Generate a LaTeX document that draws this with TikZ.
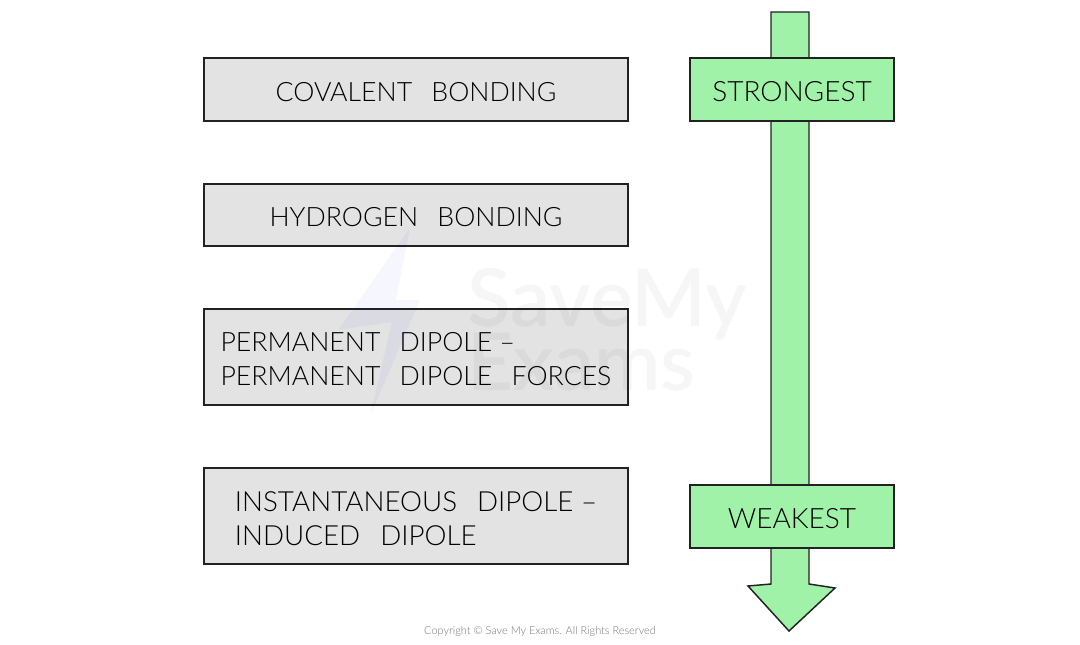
\documentclass[tikz,border=0pt]{standalone}
\usepackage{fontspec}
\setmainfont{Lato Light}
\usetikzlibrary{calc}
\definecolor{boxgrey}{HTML}{E3E3E3}
\definecolor{arrowgreen}{HTML}{A0F2A8}
\definecolor{lineblack}{HTML}{222222}
\newcommand{\gap}{\hspace{0.72em}}
\newcommand{\lowered}[1]{\raisebox{-1.8pt}[\height][\depth]{#1}}
\tikzset{
    bondbox/.style={draw=lineblack,line width=1.1pt,fill=boxgrey,minimum width=318pt,align=left,
        font=\fontsize{20}{25.5}\selectfont,inner sep=0pt},
    rankbox/.style={draw=lineblack,line width=1.1pt,fill=arrowgreen,minimum width=153pt,minimum height=47pt,
        font=\fontsize{21}{25.5}\selectfont,inner sep=0pt},
    rankarrow/.style={draw=lineblack,line width=1.1pt,fill=arrowgreen,line join=miter},
    markfaint/.style={text=black,text opacity=0.035,font=\bfseries\fontsize{60}{60}\selectfont,inner sep=0pt}
}
\begin{document}
\begin{tikzpicture}[x=0.75pt,y=-0.75pt]
    \useasboundingbox (0,0) rectangle (1080,645);
    % arrow
    \coordinate (tailL) at (771,12);
    \coordinate (tailR) at (809,12);
    \coordinate (neckR) at (809,584);
    \coordinate (wingR) at (835,588);
    \coordinate (tip) at (789,631);
    \coordinate (wingL) at (748,586);
    \coordinate (neckL) at (771,584);
    \draw[rankarrow] (tailL) -- (tailR) -- (neckR) -- (wingR) -- (tip) -- (wingL) -- (neckL) -- cycle;
    % bonding boxes
    \node[bondbox,minimum height=47pt] (covalent) at (416,89.5) {\lowered{COVALENT\gap BONDING}};
    \node[bondbox,minimum height=46.5pt] (hydrogen) at (416,215) {\lowered{HYDROGEN\gap BONDING}};
    \node[bondbox,minimum height=72pt] (permanent) at (416,357) {\lowered{PERMANENT\gap DIPOLE --}\\\lowered{PERMANENT\gap DIPOLE\gap FORCES}};
    \node[bondbox,minimum height=72pt,font=\fontsize{20.8}{25.5}\selectfont] (instant) at (416,516) {\lowered{INSTANTANEOUS\gap DIPOLE --}\\\lowered{INDUCED\gap DIPOLE}};
    % rank boxes
    \node[rankbox] (strongest) at (792,89.5) {\lowered{STRONGEST}};
    \node[rankbox] (weakest) at (792,516.5) {\lowered{WEAKEST}};
    % faint mark over the boxes
    \fill[blue,opacity=0.035] (410,228) -- (338,330) -- (392,322) -- (370,416) -- (420,300) -- (396,300) -- cycle;
    \node[markfaint,anchor=west] (marksave) at (467,304) {SaveMy};
    \node[markfaint,anchor=west] (markexams) at (467,362) {Exams};
    \node[text=black!55,font=\fontsize{8.2}{10}\selectfont,inner sep=0pt] (copyright) at (540,632) {Copyright © Save My Exams. All Rights Reserved};
\end{tikzpicture}
\end{document}
